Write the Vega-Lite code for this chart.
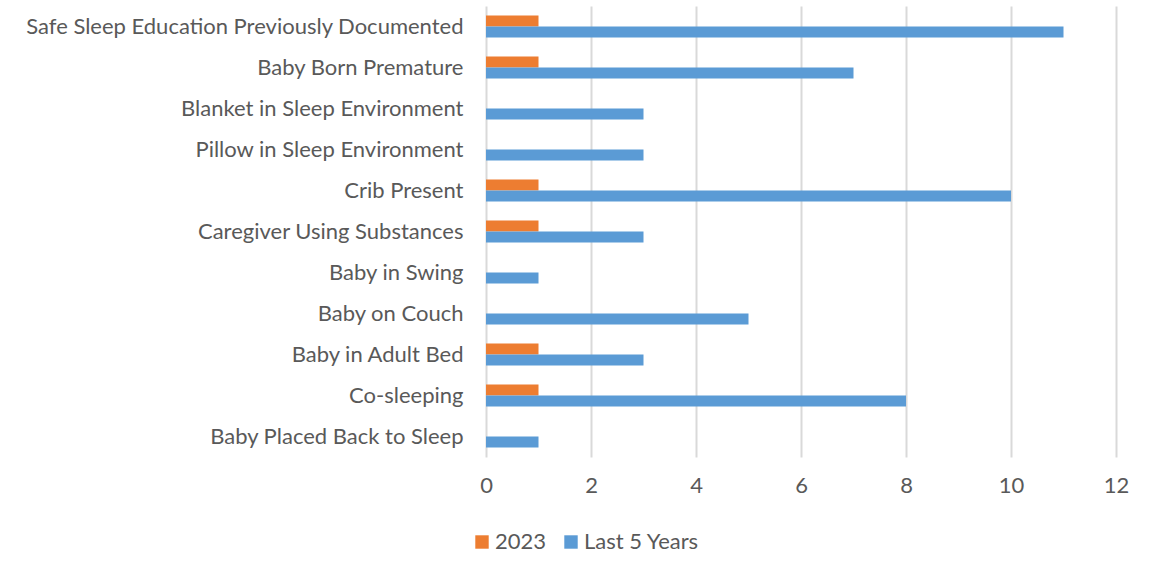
{
  "$schema": "https://vega.github.io/schema/vega-lite/v6.json",
  "width": 630,
  "height": 451,
  "padding": {"left": 6, "top": 6, "right": 10, "bottom": 5},
  "background": "white",
  "config": {
    "font": "Lato",
    "view": {"stroke": null},
    "axis": {"labelFont": "Lato", "labelColor": "#595959", "labelFontSize": 22}
  },
  "data": {
    "values": [
      {"factor": "Safe Sleep Education Previously Documented", "series": "2023", "count": 1},
      {"factor": "Safe Sleep Education Previously Documented", "series": "Last 5 Years", "count": 11},
      {"factor": "Baby Born Premature", "series": "2023", "count": 1},
      {"factor": "Baby Born Premature", "series": "Last 5 Years", "count": 7},
      {"factor": "Blanket in Sleep Environment", "series": "2023", "count": 0},
      {"factor": "Blanket in Sleep Environment", "series": "Last 5 Years", "count": 3},
      {"factor": "Pillow in Sleep Environment", "series": "2023", "count": 0},
      {"factor": "Pillow in Sleep Environment", "series": "Last 5 Years", "count": 3},
      {"factor": "Crib Present", "series": "2023", "count": 1},
      {"factor": "Crib Present", "series": "Last 5 Years", "count": 10},
      {"factor": "Caregiver Using Substances", "series": "2023", "count": 1},
      {"factor": "Caregiver Using Substances", "series": "Last 5 Years", "count": 3},
      {"factor": "Baby in Swing", "series": "2023", "count": 0},
      {"factor": "Baby in Swing", "series": "Last 5 Years", "count": 1},
      {"factor": "Baby on Couch", "series": "2023", "count": 0},
      {"factor": "Baby on Couch", "series": "Last 5 Years", "count": 5},
      {"factor": "Baby in Adult Bed", "series": "2023", "count": 1},
      {"factor": "Baby in Adult Bed", "series": "Last 5 Years", "count": 3},
      {"factor": "Co-sleeping", "series": "2023", "count": 1},
      {"factor": "Co-sleeping", "series": "Last 5 Years", "count": 8},
      {"factor": "Baby Placed Back to Sleep", "series": "2023", "count": 0},
      {"factor": "Baby Placed Back to Sleep", "series": "Last 5 Years", "count": 1}
    ]
  },
  "mark": {"type": "bar"},
  "encoding": {
    "y": {
      "field": "factor",
      "type": "nominal",
      "sort": null,
      "scale": {"paddingInner": 0.46, "paddingOuter": 0.23},
      "axis": {
        "title": null,
        "ticks": false,
        "domain": false,
        "labelPadding": 23,
        "labelLimit": 600,
        "minExtent": 480,
        "maxExtent": 480
      }
    },
    "yOffset": {
      "field": "series",
      "type": "nominal",
      "sort": ["2023", "Last 5 Years"],
      "scale": {"paddingInner": 0, "paddingOuter": 0}
    },
    "x": {
      "field": "count",
      "type": "quantitative",
      "scale": {"domain": [0, 12], "nice": false},
      "axis": {
        "title": null,
        "values": [0, 2, 4, 6, 8, 10, 12],
        "ticks": false,
        "domain": false,
        "grid": true,
        "gridColor": "#d9d9d9",
        "gridWidth": 2,
        "labelFlush": false,
        "labelPadding": 18
      }
    },
    "color": {
      "field": "series",
      "type": "nominal",
      "sort": ["2023", "Last 5 Years"],
      "scale": {"domain": ["2023", "Last 5 Years"], "range": ["#ED7D31", "#5B9BD5"]},
      "legend": {
        "title": null,
        "orient": "none",
        "direction": "horizontal",
        "legendX": -15,
        "legendY": 525,
        "symbolType": "square",
        "symbolSize": 180,
        "symbolStrokeWidth": 0,
        "labelFontSize": 22,
        "labelColor": "#595959",
        "labelFont": "Lato",
        "columnPadding": 13,
        "symbolOffset": 0,
        "labelOffset": 2
      }
    }
  }
}
